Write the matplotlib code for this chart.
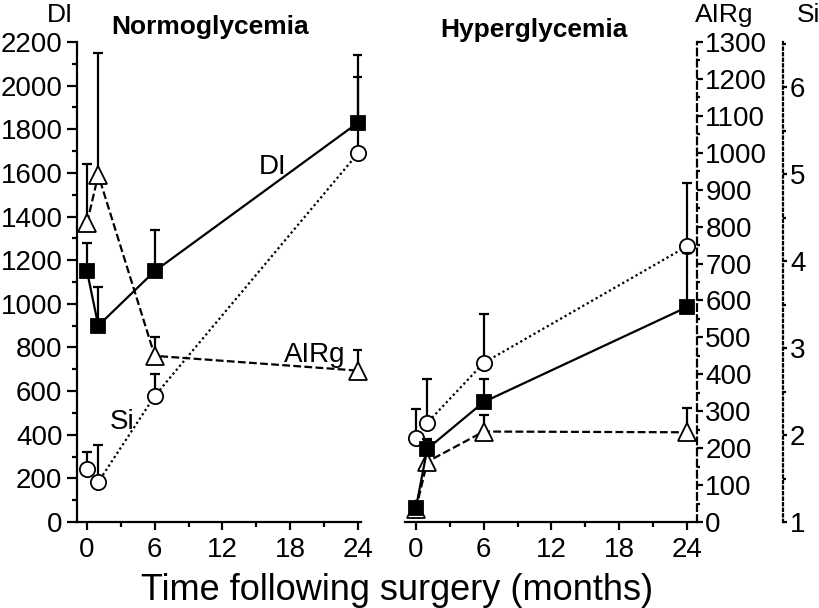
import matplotlib
matplotlib.use("Agg")
import matplotlib.pyplot as plt
from matplotlib.ticker import MultipleLocator

plt.rcParams['font.family'] = ['Liberation Sans', 'DejaVu Sans']

# months after surgery
months = [0, 1, 6, 24]

# normoglycemia
di_norm = [1150, 900, 1150, 1830]
di_norm_top = [1280, 1075, 1340, 2140]
air_norm = [810, 940, 450, 410]
air_norm_top = [970, 1270, 500, 465]
si_norm = [1.61, 1.46, 2.45, 5.24]
si_norm_top = [1.80, 1.88, 2.70, 6.12]

# hyperglycemia
di_hyper = [65, 335, 550, 985]
di_hyper_top = [65, 380, 655, 1235]
air_hyper = [35, 163, 245, 243]
air_hyper_top = [35, 222, 290, 308]
si_hyper = [1.97, 2.14, 2.83, 4.17]
si_hyper_top = [2.30, 2.65, 3.39, 4.90]

FS = 20
LW = 1.6


def serie(ax, y, top, style, marker, fill, ms):
    up = [t - v for t, v in zip(top, y)]
    low = [0] * len(y)
    ax.errorbar(months, y, yerr=[low, up], fmt='none', ecolor='black',
                elinewidth=LW, capsize=3.5, capthick=LW, zorder=2)
    ax.plot(months, y, linestyle=style, color='black', lw=LW, marker=marker,
            markerfacecolor=fill, markeredgecolor='black', markeredgewidth=1.3,
            markersize=ms, zorder=3, clip_on=False)


def painel(ax, xlim, di, di_top, air, air_top, si, si_top):
    ax.set_xlim(*xlim)
    ax.set_ylim(0, 2200)
    ax.set_facecolor('none')
    ax.spines['top'].set_visible(False)
    ax.spines['right'].set_visible(False)
    for s in ax.spines.values():
        s.set_linewidth(LW)
    ax.xaxis.set_major_locator(MultipleLocator(6))
    ax.xaxis.set_minor_locator(MultipleLocator(3))
    ax.tick_params(axis='x', which='major', direction='out', length=6,
                   width=LW, labelsize=FS, pad=5)
    ax.tick_params(axis='x', which='minor', direction='out', length=3.5, width=LW)

    ax_air = ax.twinx()
    ax_air.set_ylim(0, 1300)
    ax_si = ax.twinx()
    ax_si.set_ylim(1, 6.52)

    serie(ax_air, air, air_top, (0, (3.5, 1.5)), '^', 'white', 13)
    serie(ax_si, si, si_top, (0, (1, 1.3)), 'o', 'white', 11)
    serie(ax, di, di_top, '-', 's', 'black', 10)
    ax.set_zorder(3)
    ax_si.set_zorder(2)
    ax_air.set_zorder(1)
    for a in (ax_air, ax_si):
        a.set_facecolor('none')
        a.set_xlim(*xlim)
    return ax_air, ax_si


fig = plt.figure(figsize=(8.2, 6.08), dpi=100)
ax_n = fig.add_axes([77 / 820, 86 / 608, 284 / 820, 480 / 608])
ax_h = fig.add_axes([405 / 820, 86 / 608, 292 / 820, 480 / 608])

# left panel
air_n, si_n = painel(ax_n, (-0.886, 24.27), di_norm, di_norm_top,
                     air_norm, air_norm_top, si_norm, si_norm_top)
ax_n.yaxis.set_major_locator(MultipleLocator(200))
ax_n.yaxis.set_minor_locator(MultipleLocator(100))
ax_n.tick_params(axis='y', which='major', direction='out', length=7.5,
                 width=LW, labelsize=FS, pad=3)
ax_n.tick_params(axis='y', which='minor', direction='out', length=3.8, width=LW)
for a in (air_n, si_n):
    a.axis('off')

ax_n.text(16.4, 1627, 'DI', fontsize=FS, ha='center', va='center')
ax_n.text(20.2, 765, 'AIRg', fontsize=FS, ha='center', va='center')
ax_n.text(3.1, 458, 'Si', fontsize=FS, ha='center', va='center')

# right panel
air_h, si_h = painel(ax_h, (-0.97, 24.89), di_hyper, di_hyper_top,
                     air_hyper, air_hyper_top, si_hyper, si_hyper_top)
ax_h.spines['left'].set_visible(False)
ax_h.set_yticks([])

for a in (air_h, si_h):
    a.spines['top'].set_visible(False)
    a.spines['left'].set_visible(False)
    a.spines['bottom'].set_visible(False)

air_h.spines['right'].set_linestyle((0, (3, 2)))
air_h.spines['right'].set_linewidth(LW)
air_h.yaxis.set_major_locator(MultipleLocator(100))
air_h.yaxis.set_minor_locator(MultipleLocator(50))
air_h.tick_params(axis='y', which='major', direction='out', length=4,
                  width=LW, labelsize=FS, pad=2)
air_h.tick_params(axis='y', which='minor', direction='out', length=2.5, width=LW)

si_h.spines['right'].set_position(('outward', 62))
si_h.spines['right'].set_linestyle((0, (1, 1.5)))
si_h.spines['right'].set_linewidth(LW)
si_h.yaxis.set_major_locator(MultipleLocator(1))
si_h.yaxis.set_minor_locator(MultipleLocator(0.5))
si_h.tick_params(axis='y', which='major', direction='out', length=3,
                 width=LW, labelsize=FS, pad=2)
si_h.tick_params(axis='y', which='minor', direction='out', length=2, width=LW)

# axis titles
fig.text(60 / 820, 1 - 15 / 608, 'DI', fontsize=19, ha='center', va='center')
fig.text(724 / 820, 1 - 15 / 608, 'AIRg', fontsize=19, ha='center', va='center')
fig.text(809 / 820, 1 - 15 / 608, 'Si', fontsize=19, ha='center', va='center')

fig.text(210 / 820, 1 - 27 / 608, 'Normoglycemia', fontsize=19,
         fontweight='bold', ha='center', va='center')
fig.text(534 / 820, 1 - 30 / 608, 'Hyperglycemia', fontsize=19,
         fontweight='bold', ha='center', va='center')

fig.text(397 / 820, 1 - 590 / 608, 'Time following surgery (months)',
         fontsize=26, ha='center', va='center')

plt.savefig('out.png', dpi=100)
